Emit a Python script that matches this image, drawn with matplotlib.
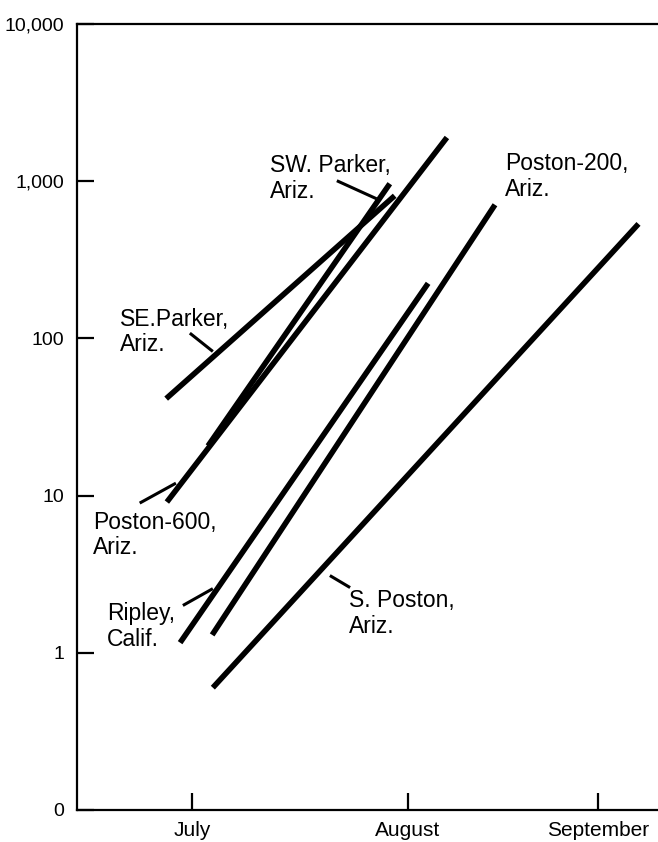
import numpy as np
import matplotlib
matplotlib.use('Agg')
import matplotlib.pyplot as plt

plt.rcParams['font.family'] = ['Liberation Sans', 'DejaVu Sans']

# x = days after July 1, y = count (log scale); each series is a straight line on the log plot
series_names = ['SE. Parker', 'SW. Parker', 'Poston-600', 'Ripley', 'Poston-200', 'S. Poston']
x_start = [-3.7, 2.3, -3.6, -1.7, 2.9, 3.0]
x_end = [29.1, 28.4, 36.6, 33.9, 43.5, 64.1]
y_start = [41.4, 20.7, 9.1, 1.16, 1.30, 0.60]
y_end = [808, 964, 1897, 224, 708, 535]

month_pos = [0, 31, 58.3]
month_labels = ['July', 'August', 'September']
ytick_vals = [0.1, 1, 10, 100, 1000, 10000]
ytick_labels = ['0', '1', '10', '100', '1,000', '10,000']

# label text, anchor (x, baseline of last line), leader from, leader to
labels = [
    ('SW. Parker,\nAriz.', (11.2, 785), (20.8, 1007), (26.5, 773)),
    ('SE.Parker,\nAriz.', (-10.3, 82.6), (-0.3, 108), (3.0, 82.6)),
    ('Poston-200,\nAriz.', (44.9, 808), None, None),
    ('Poston-600,\nAriz.', (-14.2, 4.23), (-7.5, 8.96), (-2.3, 12.0)),
    ('Ripley,\nCalif.', (-12.2, 1.108), (-1.3, 2.0), (3.0, 2.56)),
    ('S. Poston,\nAriz.', (22.5, 1.34), (19.8, 3.10), (22.7, 2.60)),
]

fig = plt.figure(figsize=(6.58, 8.42), dpi=100)
ax = fig.add_axes([77 / 658, 32 / 842, 581 / 658, 786 / 842])

for i in range(len(series_names)):
    ax.plot([x_start[i], x_end[i]], [y_start[i], y_end[i]], color='black',
            lw=4.0, solid_capstyle='butt')

for txt, pos, p0, p1 in labels:
    ax.text(pos[0], pos[1], txt, fontsize=16.5, ha='left', va='baseline',
            linespacing=1.15)
    if p0 is not None:
        ax.plot([p0[0], p1[0]], [p0[1], p1[1]], color='black', lw=2.2,
                solid_capstyle='butt')

ax.set_yscale('log')
ax.set_ylim(0.1, 10000)
ax.set_xlim(-16.5, 66.9)
ax.set_yticks(ytick_vals)
ax.set_yticklabels(ytick_labels)
ax.minorticks_off()
ax.set_xticks(month_pos)
ax.set_xticklabels(month_labels)

ax.tick_params(axis='y', direction='in', length=12, width=1.6, labelsize=14, pad=9)
ax.tick_params(axis='x', direction='in', length=12, width=1.6, labelsize=15, pad=8)
ax.spines['right'].set_visible(False)
for s in ['left', 'bottom', 'top']:
    ax.spines[s].set_linewidth(1.6)

fig.savefig('out.png', dpi=100)
